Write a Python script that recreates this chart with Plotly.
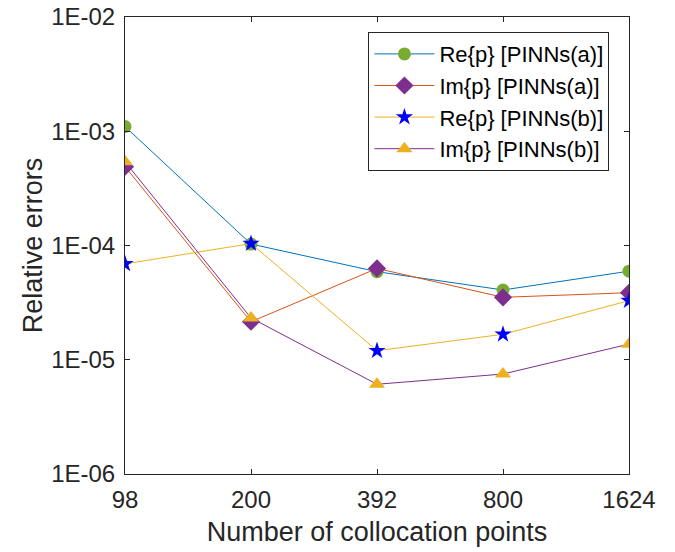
import plotly.graph_objects as go

x_labels = ["98", "200", "392", "800", "1624"]
re_a = [1.1e-3, 1.03e-4, 5.9e-5, 4.08e-5, 5.96e-5]
im_a = [4.9e-4, 2.15e-5, 6.3e-5, 3.52e-5, 3.86e-5]
re_b = [6.9e-5, 1.04e-4, 1.2e-5, 1.67e-5, 3.29e-5]
im_b = [5.4e-4, 2.32e-5, 6.1e-6, 7.5e-6, 1.37e-5]
y_tickvals = [1e-6, 1e-5, 1e-4, 1e-3, 1e-2]
y_ticktext = ["1E-06", "1E-05", "1E-04", "1E-03", "1E-02"]

series = [
    ("Re{p} [PINNs(a)]", re_a, "#0072BD", "circle", "#77AC30", 13),
    ("Im{p} [PINNs(a)]", im_a, "#D95319", "diamond", "#7E2F8E", 14),
    ("Re{p} [PINNs(b)]", re_b, "#EDB120", "star", "#0000FF", 13),
    ("Im{p} [PINNs(b)]", im_b, "#7E2F8E", "triangle-up", "#EDB120", 14),
]

fig = go.Figure()
for name, vals, lc, sym, mc, ms in series:
    fig.add_trace(go.Scatter(
        x=x_labels, y=vals, name=name, mode="lines+markers",
        line=dict(color=lc, width=1),
        marker=dict(symbol=sym, color=mc, size=ms, line=dict(width=0)),
    ))

font_family = "Liberation Sans, Arial, sans-serif"
fig.update_layout(
    width=675, height=552,
    margin=dict(l=125, r=46, t=17, b=78),
    paper_bgcolor="white", plot_bgcolor="white",
    font=dict(family=font_family, size=24, color="#262626"),
    showlegend=True,
    legend=dict(
        x=0.483, y=0.967, xanchor="left", yanchor="top",
        bgcolor="white", bordercolor="#262626", borderwidth=1,
        font=dict(size=22, color="#000000"),
        tracegroupgap=0, itemwidth=60,
    ),
    xaxis=dict(
        type="category", range=[0, 4], automargin=False,
        showline=True, linecolor="#262626", linewidth=1, mirror="ticks",
        ticks="inside", ticklen=5, tickcolor="#262626",
        showgrid=False, zeroline=False,
        ticklabelstandoff=4,
        title=dict(text="Number of collocation points", font=dict(size=27), standoff=10),
        tickfont=dict(size=24),
    ),
    yaxis=dict(
        type="log", range=[-6, -2], automargin=False,
        tickvals=y_tickvals, ticktext=y_ticktext,
        showline=True, linecolor="#262626", linewidth=1, mirror="ticks",
        ticks="inside", ticklen=5, tickcolor="#262626",
        showgrid=False, zeroline=False,
        ticklabelstandoff=4,
        title=dict(text="Relative errors", font=dict(size=27), standoff=0),
        tickfont=dict(size=24),
    ),
)

fig.write_html("out.html")
